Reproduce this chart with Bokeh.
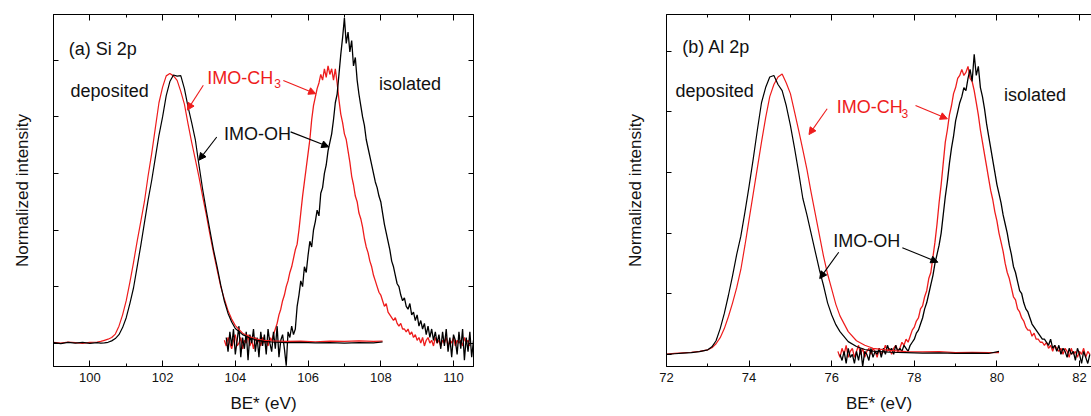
import numpy as np
from bokeh.embed import file_html
from bokeh.layouts import row
from bokeh.models import (Arrow, FixedTicker, Label, LinearAxis, NormalHead,
                          Range1d, SingleIntervalTicker)
from bokeh.plotting import figure
from bokeh.resources import INLINE

FONT = "Liberation Sans"
RED = "#ee1c1c"

# ---------- (a) Si 2p ----------
si_dep_x = [99.0, 99.2, 99.4, 99.6, 99.8, 100.0, 100.2,
            100.3, 100.4, 100.5, 100.6, 100.7, 100.8, 100.9, 101.0, 101.1, 101.2,
            101.3, 101.4, 101.5, 101.6, 101.7, 101.8, 101.9, 102.0, 102.1, 102.2,
            102.3, 102.4, 102.5, 102.6, 102.7, 102.8, 102.9, 103.0, 103.1, 103.2,
            103.3, 103.4, 103.5, 103.6, 103.7, 103.8, 103.9, 104.0,
            104.2, 104.4, 104.6, 104.8, 105.0,
            105.4, 105.8, 106.2, 106.6, 107.0, 107.4, 107.8, 108.05]
si_dep_oh = [0.002, -0.002, 0.003, 0.0, 0.003, -0.001, 0.002,
             0.0, 0.001, 0.003, 0.008, 0.016, 0.03, 0.055, 0.09, 0.14, 0.195,
             0.27, 0.345, 0.425, 0.505, 0.575, 0.655, 0.735, 0.8, 0.875, 0.925,
             0.948, 0.944, 0.946, 0.9, 0.835, 0.78, 0.72, 0.63, 0.545, 0.47,
             0.4, 0.33, 0.27, 0.205, 0.148, 0.105, 0.075, 0.052,
             0.03, 0.018, 0.01, 0.006, 0.004,
             0.002, 0.003, 0.001, 0.002, 0.0, 0.002, 0.001, 0.004]
si_dep_ch3 = [0.003, 0.0, 0.004, 0.002, -0.001, 0.003, 0.004,
              0.006, 0.01, 0.014, 0.02, 0.032, 0.06, 0.1, 0.15, 0.215, 0.285,
              0.36, 0.43, 0.5, 0.59, 0.67, 0.76, 0.85, 0.905, 0.945, 0.953,
              0.945, 0.929, 0.89, 0.845, 0.775, 0.71, 0.65, 0.588, 0.52, 0.455,
              0.385, 0.32, 0.259, 0.2, 0.155, 0.115, 0.085, 0.062,
              0.035, 0.022, 0.014, 0.01, 0.008,
              0.006, 0.007, 0.005, 0.007, 0.006, 0.008, 0.006, 0.007]

si_iso_ch3_x = np.round(np.arange(103.70, 110.451, 0.05), 2)
si_iso_ch3 = [0.01, -0.01, 0.02, 0.00, -0.02, 0.01, 0.03, -0.01, 0.00, 0.02,
              -0.02, 0.01, 0.00, 0.03, -0.01, 0.01, -0.02, 0.02, 0.00, 0.01,
              -0.01, 0.02, 0.00, 0.01, -0.01, 0.02, 0.01, 0.03, 0.05, 0.07,
              0.10, 0.12, 0.15, 0.17, 0.20, 0.22, 0.25, 0.27, 0.30, 0.33,
              0.35, 0.40, 0.46, 0.52, 0.57, 0.62, 0.67, 0.72, 0.79, 0.84,
              0.87, 0.90, 0.92, 0.95, 0.93, 0.97, 0.94, 0.98, 0.95, 0.97,
              0.93, 0.97, 0.92, 0.86, 0.81, 0.78, 0.74, 0.72, 0.68, 0.64,
              0.59, 0.56, 0.52, 0.50, 0.46, 0.44, 0.41, 0.37, 0.34, 0.32,
              0.29, 0.27, 0.24, 0.22, 0.20, 0.18, 0.17, 0.15, 0.13, 0.14,
              0.11, 0.10, 0.09, 0.08, 0.09, 0.07, 0.06, 0.07, 0.05, 0.05,
              0.04, 0.05, 0.03, 0.04, 0.02, 0.03, 0.01, 0.02, 0.00, 0.02,
              -0.01, 0.01, 0.02, 0.00, 0.01, -0.01, 0.02, 0.00, 0.01, -0.01,
              0.01, 0.00, 0.02, -0.01, 0.01, 0.00, 0.02, -0.01, 0.01, 0.00,
              0.01, -0.01, 0.02, 0.00, 0.01, -0.01]

si_iso_oh_x = np.round(np.arange(103.75, 110.551, 0.05), 2)
si_iso_oh = [0.02, -0.03, 0.04, -0.01, 0.05, -0.04, 0.01, 0.06, -0.05, 0.02,
             -0.02, 0.04, -0.06, 0.03, 0.00, 0.05, -0.03, 0.02, -0.05, 0.04,
             -0.01, 0.03, -0.04, 0.05, 0.00, -0.03, 0.04, -0.02, 0.06, -0.05,
             0.01, 0.03, -0.02, -0.08, 0.04, 0.02, 0.06, 0.03, 0.05, 0.13,
             0.17, 0.22, 0.20, 0.27, 0.25, 0.31, 0.36, 0.34, 0.40, 0.43,
             0.47, 0.45, 0.53, 0.55, 0.60, 0.63, 0.68, 0.71, 0.74, 0.79,
             0.85, 0.88, 0.95, 1.02, 1.08, 1.15, 1.06, 1.10, 1.03, 1.07,
             0.98, 1.01, 0.93, 0.88, 0.84, 0.80, 0.77, 0.72, 0.69, 0.66,
             0.63, 0.60, 0.57, 0.55, 0.52, 0.50, 0.46, 0.42, 0.39, 0.36,
             0.33, 0.29, 0.27, 0.24, 0.21, 0.20, 0.17, 0.15, 0.16, 0.13,
             0.12, 0.14, 0.10, 0.11, 0.08, 0.10, 0.06, 0.08, 0.05, 0.07,
             0.03, 0.06, 0.02, 0.05, 0.01, 0.04, 0.00, 0.03, -0.02, 0.04,
             -0.01, 0.05, -0.03, 0.02, -0.05, 0.03, 0.01, -0.04, 0.04, -0.02,
             0.05, -0.06, 0.02, -0.03, 0.04, -0.05, 0.01]

# ---------- (b) Al 2p ----------
al_dep_x = [72.0, 72.2, 72.4, 72.6, 72.8,
            73.0, 73.1, 73.2, 73.3, 73.4, 73.5, 73.6, 73.7, 73.8, 73.9, 74.0,
            74.1, 74.2, 74.3, 74.4, 74.5, 74.6, 74.7, 74.8, 74.9, 75.0, 75.1,
            75.2, 75.3, 75.4, 75.5, 75.6, 75.7, 75.8, 75.9, 76.0, 76.1, 76.2,
            76.4, 76.6, 76.8, 77.0, 77.4, 77.8, 78.2, 78.6, 79.0, 79.4, 79.8, 80.05]
al_dep_oh = [0.0, 0.002, 0.004, 0.006, 0.009,
             0.015, 0.025, 0.045, 0.085, 0.135, 0.195, 0.26, 0.33, 0.39, 0.47, 0.555,
             0.645, 0.74, 0.83, 0.88, 0.915, 0.92, 0.89, 0.87, 0.82, 0.755, 0.68,
             0.60, 0.515, 0.46, 0.40, 0.34, 0.28, 0.228, 0.17, 0.13, 0.098, 0.075,
             0.042, 0.026, 0.016, 0.011, 0.007, 0.006, 0.004, 0.005, 0.003, 0.004, 0.003, 0.01]
al_dep_ch3 = [0.001, 0.003, 0.005, 0.007, 0.01,
              0.015, 0.022, 0.035, 0.055, 0.085, 0.125, 0.17, 0.22, 0.28, 0.36, 0.445,
              0.53, 0.615, 0.70, 0.78, 0.85, 0.89, 0.915, 0.925, 0.895, 0.86, 0.80,
              0.739, 0.675, 0.61, 0.535, 0.465, 0.395, 0.325, 0.265, 0.215, 0.165, 0.127,
              0.075, 0.045, 0.03, 0.02, 0.013, 0.009, 0.008, 0.009, 0.006, 0.007, 0.006, 0.006]

al_iso_ch3_x = np.round(np.arange(76.15, 82.251, 0.05), 2)
al_iso_ch3 = [0.01, -0.01, 0.02, 0.00, 0.03, -0.01, 0.01, 0.02, -0.01, 0.01,
              0.03, 0.00, 0.02, -0.01, 0.01, 0.02, 0.00, 0.02, 0.01, -0.01,
              0.02, 0.00, 0.01, 0.03, 0.01, 0.02, 0.00, 0.02, 0.03, 0.01,
              0.02, 0.04, 0.03, 0.05, 0.04, 0.06, 0.08, 0.09, 0.11, 0.12,
              0.15, 0.16, 0.19, 0.21, 0.25, 0.27, 0.32, 0.37, 0.43, 0.50,
              0.56, 0.63, 0.70, 0.74, 0.79, 0.82, 0.86, 0.88, 0.91, 0.92,
              0.94, 0.92, 0.93, 0.95, 0.91, 0.90, 0.87, 0.83, 0.79, 0.74,
              0.70, 0.66, 0.62, 0.58, 0.54, 0.51, 0.47, 0.44, 0.40, 0.37,
              0.34, 0.30, 0.27, 0.25, 0.22, 0.19, 0.18, 0.15, 0.14, 0.12,
              0.11, 0.09, 0.08, 0.08, 0.06, 0.07, 0.05, 0.05, 0.04, 0.04,
              0.03, 0.04, 0.02, 0.03, 0.01, 0.03, 0.02, 0.01, 0.02, 0.00,
              0.02, 0.01, -0.01, 0.02, 0.00, 0.01, -0.01, 0.01, 0.00, 0.02,
              -0.01, 0.01, 0.00]

al_iso_oh_x = np.round(np.arange(76.20, 82.251, 0.05), 2)
al_iso_oh = [0.00, -0.02, 0.01, -0.03, 0.02, -0.01, 0.00, -0.03, 0.01, -0.02,
             0.02, -0.04, 0.01, 0.00, -0.02, 0.02, -0.01, 0.01, 0.00, 0.02,
             -0.01, 0.02, 0.00, 0.03, 0.01, 0.02, 0.00, 0.03, 0.01, 0.02,
             0.01, 0.03, 0.02, 0.01, 0.03, 0.04, 0.05, 0.07, 0.08, 0.10,
             0.12, 0.15, 0.17, 0.20, 0.23, 0.26, 0.30, 0.33, 0.36, 0.40,
             0.46, 0.52, 0.57, 0.63, 0.68, 0.72, 0.77, 0.80, 0.83, 0.85,
             0.88, 0.87, 0.91, 0.94, 0.90, 0.99, 0.92, 0.95, 0.88, 0.85,
             0.81, 0.76, 0.72, 0.68, 0.64, 0.60, 0.56, 0.53, 0.50, 0.46,
             0.43, 0.40, 0.36, 0.33, 0.29, 0.27, 0.24, 0.21, 0.20, 0.17,
             0.15, 0.14, 0.12, 0.10, 0.09, 0.08, 0.07, 0.06, 0.05, 0.05,
             0.04, 0.03, 0.05, 0.02, 0.03, 0.01, 0.03, 0.00, 0.02, 0.01,
             -0.01, 0.02, 0.00, 0.01, -0.02, 0.02, 0.00, -0.03, 0.01, -0.01,
             -0.03, 0.00]

y_ticks = [0.0, 0.2, 0.4, 0.6, 0.8, 1.0]


def style_axis(ax, labels=True):
    ax.axis_line_color = "black"
    ax.major_tick_line_color = "black"
    ax.minor_tick_line_color = "black"
    ax.major_tick_in = 6
    ax.major_tick_out = 0
    ax.minor_tick_in = 3
    ax.minor_tick_out = 0
    ax.major_label_text_font = FONT
    ax.axis_label_text_font = FONT
    ax.axis_label_text_font_style = "normal"
    ax.axis_label_text_font_size = "17px"
    ax.axis_label_text_color = "#111111"
    if labels:
        ax.major_label_text_color = "#111111"
        ax.major_label_text_font_size = "13px"
        ax.major_label_standoff = 6
    else:
        # ticks only: the labels are not painted
        ax.major_label_text_color = None
        ax.major_label_text_font_size = "1px"
        ax.major_label_standoff = 0


def panel(xr, yr, width, border_left, border_right, right_axis):
    p = figure(width=width, height=416, x_range=xr, y_range=yr,
               output_backend="svg", toolbar_location=None,
               min_border_left=border_left, min_border_right=border_right,
               min_border_top=14, min_border_bottom=50)
    p.background_fill_color = "white"
    p.border_fill_color = "white"
    p.grid.grid_line_color = None
    p.outline_line_color = "black" if right_axis else None

    xt = SingleIntervalTicker(interval=2, num_minor_ticks=2)
    yt = FixedTicker(ticks=y_ticks, minor_ticks=[])

    p.xaxis.ticker = xt
    p.xaxis.axis_label = "BE* (eV)"
    style_axis(p.xaxis[0])
    p.xaxis.axis_label_standoff = 9

    p.yaxis.ticker = yt
    p.yaxis.axis_label = "Normalized intensity"
    style_axis(p.yaxis[0], labels=False)
    p.yaxis.axis_label_standoff = 22
    p.yaxis.major_tick_in = 5

    top = LinearAxis(ticker=xt)
    style_axis(top, labels=False)
    p.add_layout(top, "above")
    if right_axis:
        rt = LinearAxis(ticker=yt)
        style_axis(rt, labels=False)
        rt.major_tick_in = 5
        p.add_layout(rt, "right")
    return p


def add_text(p, x, y, text, color="#111111", size="18px"):
    p.add_layout(Label(x=x, y=y, text=text, text_color=color, text_font=FONT,
                       text_font_size=size, text_baseline="alphabetic"))


def add_arrow(p, x0, y0, x1, y1, color):
    p.add_layout(Arrow(end=NormalHead(size=7, fill_color=color, line_color=color),
                       x_start=x0, y_start=y0, x_end=x1, y_end=y1,
                       line_color=color, line_width=1.1))


# left panel
p1 = panel(Range1d(99.0, 110.55), Range1d(-0.0826, 1.162), 545, 53, 72, True)
p1.line(si_iso_ch3_x, si_iso_ch3, line_color=RED, line_width=1.3)
p1.line(si_iso_oh_x, si_iso_oh, line_color="black", line_width=1.3)
p1.line(si_dep_x, si_dep_ch3, line_color=RED, line_width=1.2)
p1.line(si_dep_x, si_dep_oh, line_color="black", line_width=1.2)

add_text(p1, 99.42, 1.041, "(a) Si 2p")
add_text(p1, 99.47, 0.892, "deposited")
add_text(p1, 107.95, 0.918, "isolated")
add_text(p1, 103.23, 0.939, "IMO-CH", RED)
add_text(p1, 105.07, 0.918, "3", RED, "12px")
add_text(p1, 103.69, 0.741, "IMO-OH")
add_arrow(p1, 105.32, 0.929, 106.21, 0.882, RED)
add_arrow(p1, 103.12, 0.912, 102.68, 0.824, RED)
add_arrow(p1, 105.52, 0.747, 106.57, 0.694, "black")
add_arrow(p1, 103.49, 0.729, 103.0, 0.647, "black")

# right panel (cut at the right edge, no right axis)
p2 = panel(Range1d(72.0, 82.29), Range1d(-0.040, 1.121), 546, 121, 0, False)
p2.line(al_iso_ch3_x, al_iso_ch3, line_color=RED, line_width=1.3)
p2.line(al_iso_oh_x, al_iso_oh, line_color="black", line_width=1.3)
p2.line(al_dep_x, al_dep_ch3, line_color=RED, line_width=1.2)
p2.line(al_dep_x, al_dep_oh, line_color="black", line_width=1.2)

add_text(p2, 72.38, 1.013, "(b) Al 2p")
add_text(p2, 72.22, 0.870, "deposited")
add_text(p2, 80.17, 0.856, "isolated")
add_text(p2, 76.12, 0.815, "IMO-CH", RED)
add_text(p2, 77.69, 0.796, "3", RED, "12px")
add_text(p2, 76.04, 0.373, "IMO-OH")
add_arrow(p2, 78.03, 0.821, 78.80, 0.777, RED)
add_arrow(p2, 75.89, 0.810, 75.45, 0.725, RED)
add_arrow(p2, 77.71, 0.352, 78.57, 0.304, "black")
add_arrow(p2, 76.17, 0.337, 75.71, 0.250, "black")

layout = row(p1, p2)
open("out.html", "w").write(file_html(layout, INLINE))
